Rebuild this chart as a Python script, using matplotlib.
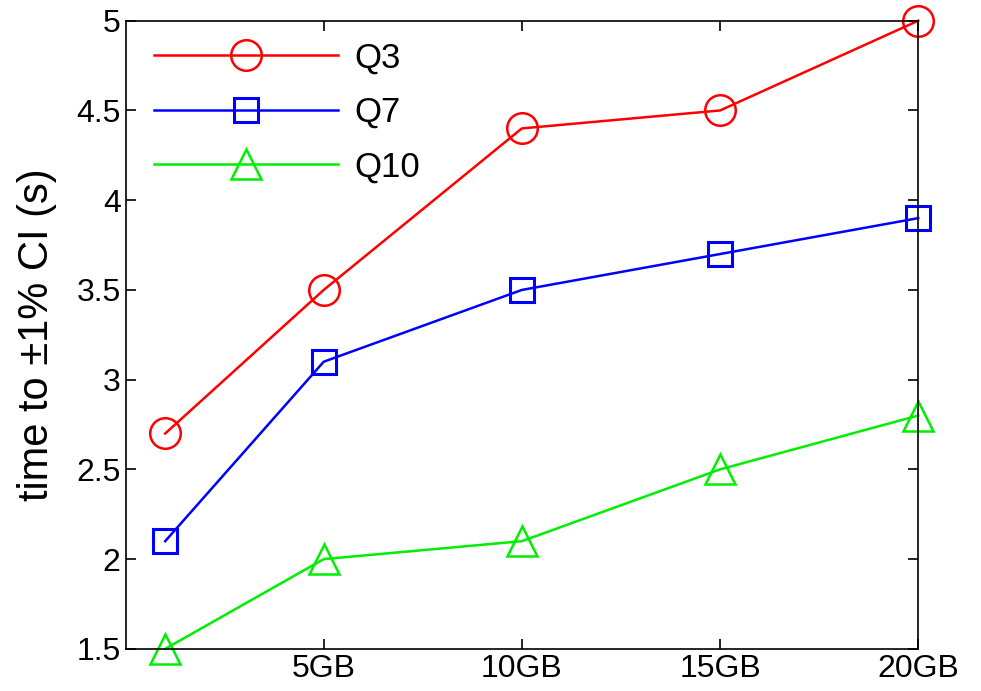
import matplotlib
matplotlib.use('Agg')
import matplotlib.pyplot as plt

plt.rcParams['font.family'] = ['Liberation Sans', 'DejaVu Sans']

sizes_gb = [1, 5, 10, 15, 20]
q3 = [2.7, 3.5, 4.4, 4.5, 5.0]
q7 = [2.1, 3.1, 3.5, 3.7, 3.9]
q10 = [1.5, 2.0, 2.1, 2.5, 2.8]
xtick_vals = [5, 10, 15, 20]
xtick_labels = ['5GB', '10GB', '15GB', '20GB']
ytick_vals = [1.5, 2, 2.5, 3, 3.5, 4, 4.5, 5]
ytick_labels = ['1.5', '2', '2.5', '3', '3.5', '4', '4.5', '5']

fig = plt.figure(figsize=(9.81, 6.91), dpi=100)
ax = fig.add_axes([0.128, 0.061, 0.808, 0.909])

ax.plot(sizes_gb, q3, color='#ff0000', lw=1.8, marker='o', ms=22,
        mfc='none', mew=1.8, label='Q3', clip_on=False)
ax.plot(sizes_gb, q7, color='#0000ff', lw=1.8, marker='s', ms=17,
        mfc='none', mew=2.2, label='Q7', clip_on=False)
ax.plot(sizes_gb, q10, color='#00ee00', lw=1.8, marker='^', ms=22,
        mfc='none', mew=1.8, label='Q10', clip_on=False)

ax.set_xlim(0, 20)
ax.set_ylim(1.5, 5)
ax.set_xticks(xtick_vals)
ax.set_xticklabels(xtick_labels)
ax.set_yticks(ytick_vals)
ax.set_yticklabels(ytick_labels)
ax.tick_params(direction='in', length=7, width=1.2, labelsize=23,
               top=True, right=True)
for s in ax.spines.values():
    s.set_linewidth(1.2)
ax.set_ylabel('time to \u00b11% CI (s)', fontsize=30, labelpad=14)

ax.legend(loc='upper left', frameon=False, fontsize=25, handlelength=5.3,
          handletextpad=0.45, labelspacing=0.62, borderaxespad=0.2,
          bbox_to_anchor=(0.01, 1.0))

fig.savefig('out.png', dpi=100)
